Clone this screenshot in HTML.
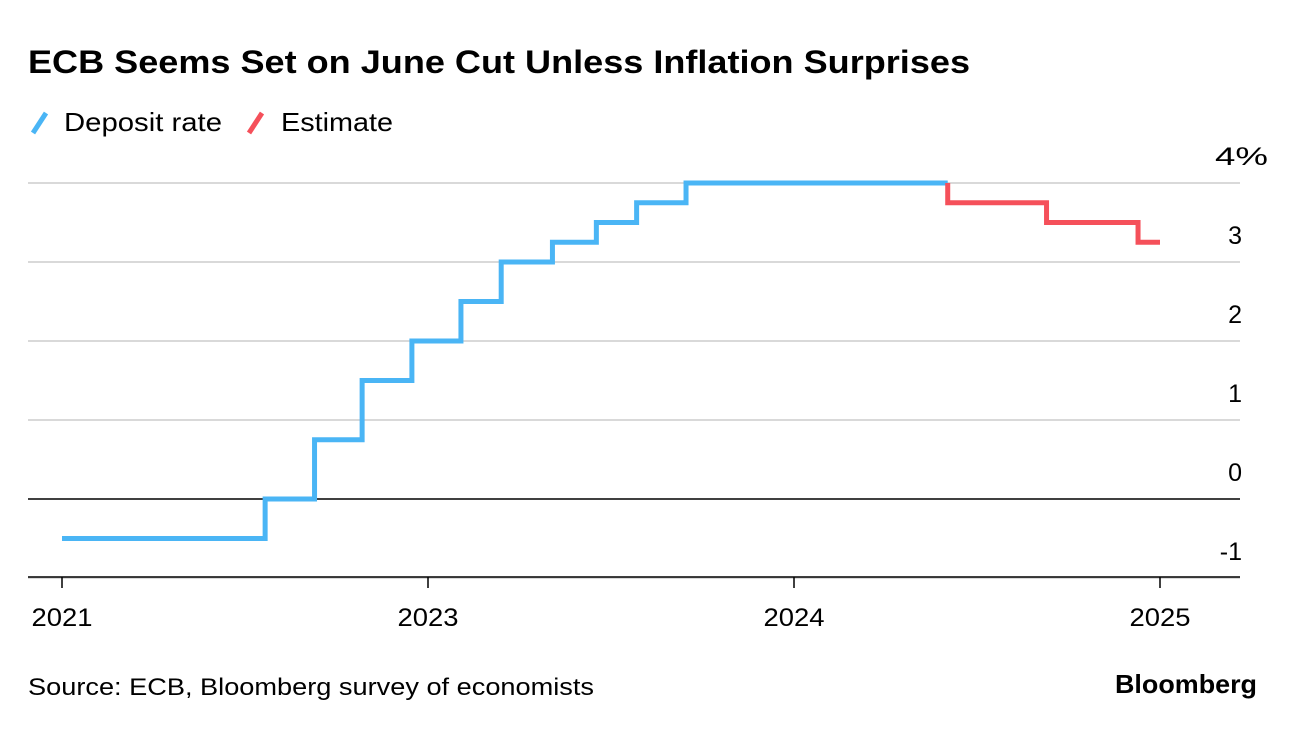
<!DOCTYPE html>
<html><head><meta charset="utf-8"><style>
body{margin:0;background:#fff;width:1296px;height:728px;overflow:hidden;font-family:"Liberation Sans",Arial,sans-serif}
</style></head><body>
<svg width="1296" height="728" xmlns="http://www.w3.org/2000/svg" font-family="Liberation Sans, Arial, sans-serif">
<text x="28" y="73" font-size="32" font-weight="bold" fill="#000" textLength="942" lengthAdjust="spacingAndGlyphs">ECB Seems Set on June Cut Unless Inflation Surprises</text>
<g>
<line x1="33" y1="133" x2="46" y2="113" stroke="#4ab5f5" stroke-width="5"/>
<text x="64" y="131" font-size="26" fill="#000" textLength="158" lengthAdjust="spacingAndGlyphs">Deposit rate</text>
<line x1="249" y1="133" x2="262" y2="113" stroke="#f5505a" stroke-width="5"/>
<text x="281" y="131" font-size="26" fill="#000" textLength="112" lengthAdjust="spacingAndGlyphs">Estimate</text>
</g>
<g id="grid"></g><g id="xaxis"></g><g id="series"></g>
<text x="28" y="695" font-size="24" fill="#000" textLength="566" lengthAdjust="spacingAndGlyphs">Source: ECB, Bloomberg survey of economists</text>
<text x="1115" y="693" font-size="26" font-weight="bold" fill="#000" textLength="142" lengthAdjust="spacingAndGlyphs">Bloomberg</text>
</svg>
<script>
const yTicks=[4,3,2,1,0,-1];
const yTickLabels=["4%","3","2","1","0","-1"];
const xTickYears=[2022,2023,2024,2025];
const xTickLabels=["2021","2023","2024","2025"];
const depositDates=[2022.0,2022.555,2022.69,2022.82,2022.956,2023.09,2023.2,2023.34,2023.46,2023.57,2023.705,2024.42];
const depositValues=[-0.5,0,0.75,1.5,2.0,2.5,3.0,3.25,3.5,3.75,4.0];
const estimateDates=[2024.42,2024.69,2024.94,2025.0];
const estimateValues=[3.75,3.5,3.25];
const NS="http://www.w3.org/2000/svg";
const x=t=>62+(t-2022)*366;
const y=v=>499-v*79;
function mk(tag,attrs,parent){const e=document.createElementNS(NS,tag);for(const k in attrs)e.setAttribute(k,attrs[k]);parent.appendChild(e);return e;}
const grid=document.getElementById('grid');
yTicks.forEach((v,i)=>{
 const l=mk('line',{x1:28,x2:1240,y1:y(v),y2:y(v),stroke:v===0?'#000':'#d9d9d9','stroke-width':v===0?1.5:2},grid);
 
 
 const t=mk('text',{x:v===4?1268:1242,y:y(v)-18,'font-size':25,'text-anchor':'end',fill:'#000'},grid);
 if(v===4){t.setAttribute('textLength',53);t.setAttribute('lengthAdjust','spacingAndGlyphs');}
 t.textContent=yTickLabels[i];
 
 
});
const xa=document.getElementById('xaxis');
const ax=mk('line',{x1:28,x2:1240,y1:577,y2:577,stroke:'#000','stroke-width':1.5},xa);


xTickYears.forEach((yr,i)=>{
 const tk=mk('line',{x1:x(yr),x2:x(yr),y1:577,y2:588,stroke:'#000','stroke-width':1.5},xa);
 
 
 const t=mk('text',{x:x(yr),y:626,'font-size':25,'text-anchor':'middle',fill:'#000',textLength:61,lengthAdjust:'spacingAndGlyphs'},xa);
 t.textContent=xTickLabels[i];
 
 
});
function stepPath(d,v){let p='M'+x(d[0])+','+y(v[0]);for(let i=0;i<v.length;i++){p+=' L'+x(d[i+1])+','+y(v[i]);if(i+1<v.length)p+=' L'+x(d[i+1])+','+y(v[i+1]);}return p;}
const s=document.getElementById('series');
const p1=mk('path',{d:stepPath(depositDates,depositValues),fill:'none',stroke:'#4ab5f5','stroke-width':5},s);


const p2=mk('path',{d:'M'+x(estimateDates[0])+','+y(4)+' L'+x(estimateDates[0])+','+y(estimateValues[0])+stepPath(estimateDates,estimateValues).replace(/^M[^ ]+/,''),fill:'none',stroke:'#f5505a','stroke-width':5},s);


</script>
</body></html>
